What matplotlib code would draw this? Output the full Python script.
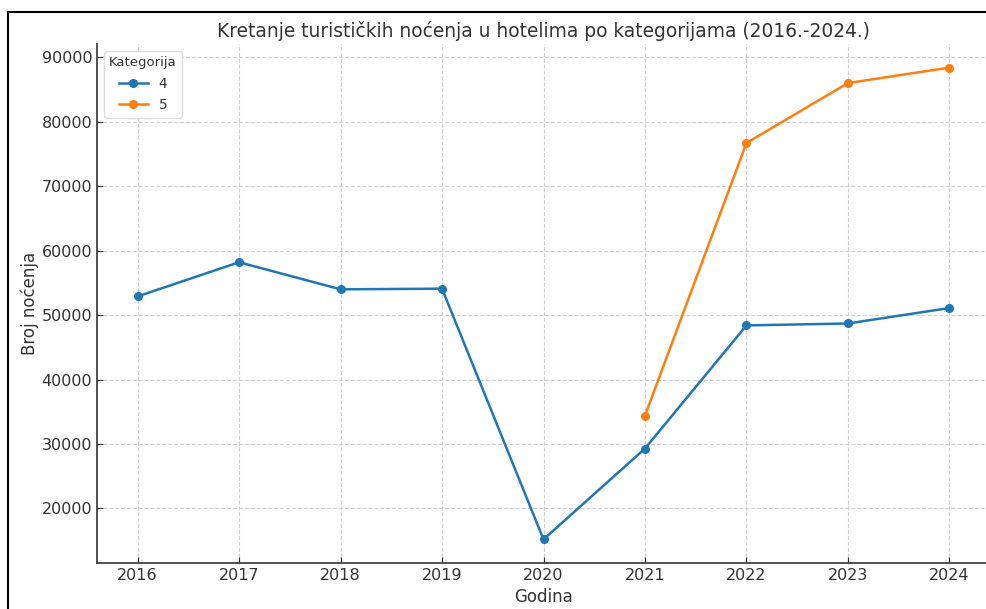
import matplotlib
matplotlib.use("Agg")
import matplotlib.pyplot as plt
from matplotlib.lines import Line2D

years = [2016, 2017, 2018, 2019, 2020, 2021, 2022, 2023, 2024]
cat4 = [52900, 58200, 54000, 54100, 15200, 29300, 48400, 48700, 51100]
years5 = [2021, 2022, 2023, 2024]
cat5 = [34400, 76700, 86000, 88400]
series_labels = ["4", "5"]

TXT = "#333333"
plt.rcParams["font.family"] = ["DejaVu Sans"]

fig = plt.figure(figsize=(9.87, 6.09), dpi=100)
ax = fig.add_axes([97/987, (609-563)/609, 893/987, (563-44)/609])

ax.plot(years, cat4, color="#1f77b4", lw=1.8, marker="o", ms=5.5, label=series_labels[0])
ax.plot(years5, cat5, color="#ff7f0e", lw=1.8, marker="o", ms=5.5, label=series_labels[1])

ax.set_xticks(years)
ax.set_xticklabels([str(y) for y in years])
ax.set_yticks([20000, 30000, 40000, 50000, 60000, 70000, 80000, 90000])
ax.grid(True, linestyle="--", color="#d0d0d0", lw=0.8)
ax.set_axisbelow(True)
for s in ["top", "right"]:
    ax.spines[s].set_visible(False)
for s in ["left", "bottom"]:
    ax.spines[s].set_color("#333333")
    ax.spines[s].set_linewidth(1.2)
ax.tick_params(direction="in", colors="#333333", labelcolor=TXT, labelsize=11.5, length=4)

ax.set_title("Kretanje turističkih noćenja u hotelima po kategorijama (2016.-2024.)",
             fontsize=13.4, color=TXT, pad=5)
ax.set_xlabel("Godina", fontsize=12, color=TXT, labelpad=4)
ax.set_ylabel("Broj noćenja", fontsize=12, color=TXT, labelpad=2)

leg = ax.legend(title="Kategorija", loc="upper left", fontsize=9.8, title_fontsize=9.5,
                framealpha=1, edgecolor="#dddddd", labelspacing=0.55, handlelength=2.1)
for t in leg.get_texts():
    t.set_color(TXT)
leg.get_title().set_color(TXT)

# screenshot frame lines
fig.add_artist(Line2D([8/987, 1.0], [1 - 12/609, 1 - 12/609], color="black", lw=1.5,
                      transform=fig.transFigure))
fig.add_artist(Line2D([8/987, 8/987], [0, 1 - 12/609], color="black", lw=1.5,
                      transform=fig.transFigure))

fig.savefig("out.png", dpi=100)
